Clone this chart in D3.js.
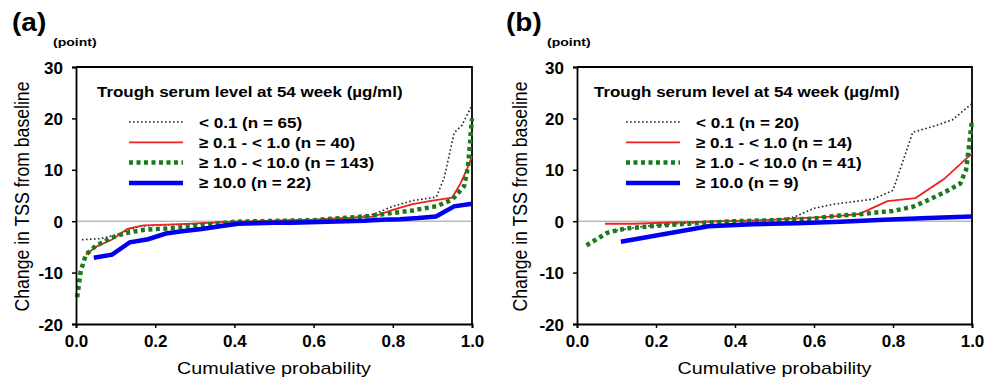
<!DOCTYPE html>
<html><head><meta charset="utf-8">
<script src="https://cdn.jsdelivr.net/npm/d3@7"></script>
<style>
body{margin:0;background:#fff;}
svg text{font-family:"Liberation Sans",Arial,sans-serif;}
</style></head>
<body><svg id="c" width="993" height="378"></svg>
<script>
// ---- data (cumulative probability, change in TSS) ----
const xTicks = [0.0, 0.2, 0.4, 0.6, 0.8, 1.0];
const yTicks = [-20, -10, 0, 10, 20, 30];
const legendTitle = "Trough serum level at 54 week (\u00b5g/ml)";

const aLabels = ["< 0.1 (n = 65)", "\u2265 0.1 - < 1.0 (n = 40)", "\u2265 1.0 - < 10.0 (n = 143)", "\u2265 10.0 (n = 22)"];
const bLabels = ["< 0.1 (n = 20)", "\u2265 0.1 - < 1.0 (n = 14)", "\u2265 1.0 - < 10.0 (n = 41)", "\u2265 10.0 (n = 9)"];

const aBlack = [[0.015,-3.6],[0.06,-3.4],[0.1,-2.7],[0.13,-1.8],[0.16,-1.0],[0.2,-0.8],[0.3,-0.5],[0.4,-0.1],[0.5,0.1],[0.6,0.3],[0.7,0.7],[0.75,1.3],[0.8,2.9],[0.85,4.0],[0.91,4.7],[0.93,8.5],[0.955,17.2],[0.975,18.7],[1.0,22.6]];
const aRed = [[0.025,-6.5],[0.05,-5.0],[0.09,-3.6],[0.13,-1.5],[0.17,-0.8],[0.25,-0.6],[0.4,-0.1],[0.6,0.3],[0.75,0.9],[0.8,2.2],[0.85,3.3],[0.9,4.0],[0.95,4.6],[0.97,7.2],[0.985,9.7],[1.0,12.6]];
const aGreen = [[0.003,-14.8],[0.007,-12.5],[0.012,-9.7],[0.025,-6.5],[0.05,-4.8],[0.09,-3.2],[0.125,-2.3],[0.17,-1.7],[0.25,-1.3],[0.34,-0.6],[0.4,-0.1],[0.6,0.2],[0.74,1.0],[0.8,1.6],[0.85,2.1],[0.91,2.9],[0.95,4.2],[0.98,6.8],[0.99,10.6],[0.995,15.2],[1.0,20.0]];
const aBlue = [[0.045,-7.1],[0.091,-6.5],[0.136,-4.1],[0.182,-3.5],[0.227,-2.4],[0.273,-1.9],[0.318,-1.5],[0.364,-1.0],[0.409,-0.5],[0.455,-0.4],[0.5,-0.3],[0.545,-0.3],[0.591,-0.2],[0.636,-0.1],[0.682,0.0],[0.727,0.1],[0.773,0.3],[0.818,0.4],[0.864,0.6],[0.909,0.9],[0.955,2.9],[1.0,3.4]];

const bBlack = [[0.1,-1.8],[0.15,-1.2],[0.2,-0.8],[0.25,-0.5],[0.3,-0.3],[0.35,-0.1],[0.4,0.0],[0.45,0.1],[0.5,0.3],[0.55,0.8],[0.6,2.5],[0.65,3.3],[0.7,3.8],[0.75,4.3],[0.8,6.0],[0.85,17.3],[0.9,18.4],[0.95,19.7],[1.0,22.9]];
const bRed = [[0.071,-0.5],[0.143,-0.5],[0.214,-0.3],[0.286,-0.2],[0.357,0.0],[0.429,0.1],[0.5,0.3],[0.571,0.6],[0.643,0.9],[0.714,1.4],[0.786,3.9],[0.857,4.5],[0.929,8.2],[1.0,13.2]];
const bGreen = [[0.024,-4.7],[0.05,-3.5],[0.075,-2.3],[0.1,-1.8],[0.125,-1.4],[0.2,-0.9],[0.3,-0.4],[0.4,0.0],[0.5,0.2],[0.6,0.5],[0.65,1.0],[0.72,1.4],[0.8,2.0],[0.85,2.8],[0.88,3.8],[0.93,5.6],[0.97,7.3],[0.985,10.0],[0.993,15.0],[1.0,19.7]];
const bBlue = [[0.111,-4.0],[0.222,-2.5],[0.333,-1.0],[0.444,-0.6],[0.556,-0.4],[0.667,-0.1],[0.778,0.3],[0.889,0.6],[1.0,0.9]];

// ---- styles ----
const styles = [
  {color:"#222", width:1.6, dash:"1.6 2.4"},
  {color:"#ee2222", width:1.8, dash:null},
  {color:"#1a7a1a", width:4.5, dash:"4 3.5"},
  {color:"#0000ee", width:4.5, dash:null}
];

const svg = d3.select("#c");

// text stretched horizontally (sx) as in the reference
function stext(g, x, y, str, size, bold, sx, anchor, rot){
  return g.append("text")
    .attr("transform",`translate(${x},${y})${rot?` rotate(${rot})`:""} scale(${sx},1)`)
    .attr("font-size",size).attr("font-weight",bold?"bold":"normal")
    .attr("text-anchor",anchor||"start").attr("fill","#000").text(str);
}

function panel(o){
  const g = svg.append("g");
  const x = d3.scaleLinear().domain([0,1]).range([o.left, o.right]);
  const y = d3.scaleLinear().domain([-20,30]).range([o.bottom, o.top]);

  // zero line
  g.append("line").attr("x1",x(0)).attr("x2",x(1)).attr("y1",y(0)).attr("y2",y(0))
    .attr("stroke","#999").attr("stroke-width",1);

  // frame (top/right)
  g.append("path").attr("d",`M${x(0)},${y(30)}H${x(1)}V${y(-20)}`)
    .attr("fill","none").attr("stroke","#000").attr("stroke-width",1.8);

  const line = d3.line().x(d=>x(d[0])).y(d=>y(d[1]));
  o.series.forEach((s,i)=>{
    const st = styles[i];
    g.append("path").datum(s).attr("d",line).attr("fill","none")
      .attr("stroke",st.color).attr("stroke-width",st.width)
      .attr("stroke-dasharray",st.dash);
  });

  const xa = g.append("g").attr("transform",`translate(0,${o.bottom})`)
    .call(d3.axisBottom(x).tickValues(xTicks).tickFormat(d3.format(".1f")).tickSize(4).tickPadding(4));
  const ya = g.append("g").attr("transform",`translate(${o.left},0)`)
    .call(d3.axisLeft(y).tickValues(yTicks).tickFormat(d=>String(d)).tickSize(4).tickPadding(9));
  [xa,ya].forEach(a=>{
    a.select(".domain").attr("stroke","#000").attr("stroke-width",1.8);
    a.selectAll(".tick line").attr("stroke","#000").attr("stroke-width",1.5);
    a.selectAll("text").attr("font-size",17).attr("font-weight","bold").attr("fill","#000")
      .style("font-family","'Liberation Sans',Arial,sans-serif");
  });
  xa.selectAll("text").attr("dy","0.9em");
  ya.selectAll("text").attr("dy","0.36em");

  // axis titles
  stext(g,(o.left+o.right)/2,374,"Cumulative probability",17,false,1.16,"middle");
  stext(g,o.ytx,(o.top+o.bottom)/2+1,"Change in TSS from baseline",19.5,false,0.905,"middle",-90);

  // panel label
  stext(g,o.lx,31,o.label,25,true,1.12);
  stext(g,o.px,46,"(point)",11.5,true,1.22);

  // legend
  stext(g,o.legX,97,legendTitle,14.5,true,1.17);
  o.labels.forEach((t,i)=>{
    const yy = 122 + i*20.3;
    const st = styles[i];
    g.append("line").attr("x1",o.legX+32).attr("x2",o.legX+86).attr("y1",yy).attr("y2",yy)
      .attr("stroke",st.color).attr("stroke-width",st.width).attr("stroke-dasharray",st.dash);
    stext(g,o.legX+102,yy+5.5,t,15.5,true,1.1);
  });
}

panel({left:76,right:472,top:67,bottom:324,series:[aBlack,aRed,aGreen,aBlue],labels:aLabels,
  label:"(a)",lx:12,px:53,ytx:29,legX:97});
panel({left:577,right:972,top:67,bottom:324,series:[bBlack,bRed,bGreen,bBlue],labels:bLabels,
  label:"(b)",lx:506,px:547,ytx:527,legX:594});
</script></body></html>
